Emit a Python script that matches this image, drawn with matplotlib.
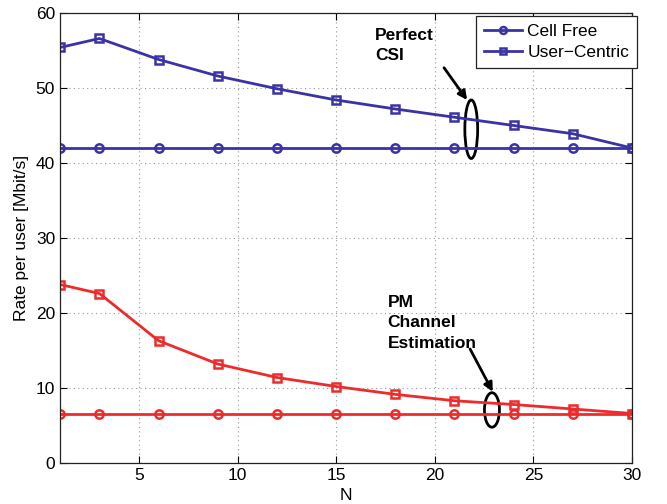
import matplotlib
matplotlib.use("Agg")
import matplotlib.pyplot as plt
from matplotlib.patches import Ellipse

plt.rcParams['font.family'] = ['Liberation Sans', 'DejaVu Sans']

N = [1, 3, 6, 9, 12, 15, 18, 21, 24, 27, 30]
perfect_cf = [42.0, 42.0, 42.0, 42.0, 42.0, 42.0, 42.0, 42.0, 42.0, 42.0, 42.0]
perfect_uc = [55.4, 56.6, 53.8, 51.6, 49.9, 48.4, 47.2, 46.1, 45.0, 43.9, 42.0]
pm_cf = [6.6, 6.6, 6.6, 6.6, 6.6, 6.6, 6.6, 6.6, 6.6, 6.6, 6.6]
pm_uc = [23.8, 22.6, 16.3, 13.2, 11.4, 10.2, 9.15, 8.3, 7.8, 7.2, 6.6]

blue = '#3a33a6'
red = '#ee2b2b'

fig = plt.figure(figsize=(6.67, 5.04), dpi=100)
ax = fig.add_axes([60/667, 1-463/504, 572/667, 450/504])

kw = dict(lw=2.0, ms=6, mfc='none', mew=1.8)
l1, = ax.plot(N, perfect_cf, '-o', color=blue, label='Cell Free', **kw)
l2, = ax.plot(N, perfect_uc, '-s', color=blue, label='User\u2212Centric', **kw)
ax.plot(N, pm_cf, '-o', color=red, **kw)
ax.plot(N, pm_uc, '-s', color=red, **kw)

ax.set_xlim(1, 30)
ax.set_ylim(0, 60)
ax.set_xticks([5, 10, 15, 20, 25, 30])
ax.set_yticks([0, 10, 20, 30, 40, 50, 60])
ax.tick_params(direction='in', top=True, right=True, labelsize=12.5, length=5, width=0.8)
ax.grid(True, linestyle=(0, (1, 3)), color='#999999', lw=0.8)
for s in ax.spines.values():
    s.set_linewidth(0.9)
    s.set_color('#222222')

ax.set_xlabel('N', fontsize=12.5, labelpad=4)
ax.set_ylabel('Rate per user [Mbit/s]', fontsize=12.5, labelpad=5)

leg = ax.legend(handles=[l1, l2], loc='upper right', bbox_to_anchor=(1.009, 0.993),
                fontsize=12.5, fancybox=False, edgecolor='#222222', framealpha=1,
                handlelength=2.2, handletextpad=0.3, borderpad=0.45, labelspacing=0.35,
                borderaxespad=0)
leg.get_frame().set_linewidth(0.9)
for h in leg.legend_handles:
    h.set_markersize(5)

# Annotations
ax.add_patch(Ellipse((21.85, 44.5), 0.65, 7.8, fill=False, lw=2, ec='black'))
ax.annotate('', xy=(21.64, 48.4), xytext=(20.47, 52.7),
            arrowprops=dict(arrowstyle='-|>', lw=2, color='black', mutation_scale=13,
                            shrinkA=0, shrinkB=0))
ax.text(16.97, 58.0, 'Perfect\nCSI', fontsize=12.5, fontweight='bold', va='top', ha='left',
        linespacing=1.4)

ax.add_patch(Ellipse((22.9, 7.07), 0.76, 4.6, fill=False, lw=2, ec='black'))
ax.annotate('', xy=(22.94, 9.5), xytext=(21.79, 15.2),
            arrowprops=dict(arrowstyle='-|>', lw=2, color='black', mutation_scale=13,
                            shrinkA=0, shrinkB=0))
ax.text(17.6, 22.4, 'PM\nChannel\nEstimation', fontsize=12.5, fontweight='bold', va='top',
        ha='left', linespacing=1.45)

fig.savefig('out.png', dpi=100)
